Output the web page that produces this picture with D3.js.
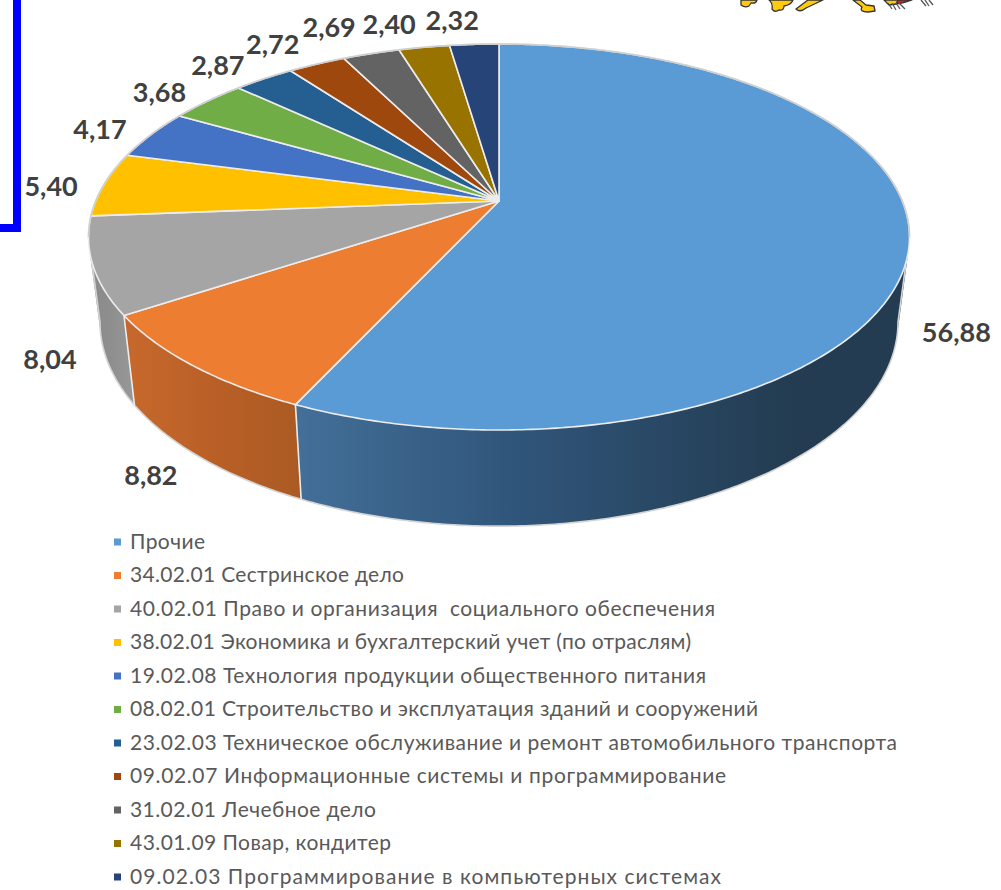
<!DOCTYPE html>
<html>
<head>
<meta charset="utf-8">
<script src="https://cdn.jsdelivr.net/npm/d3@7"></script>
<style>
  html, body { margin: 0; padding: 0; background: #fff; }
  svg { display: block; }
  text { font-family: Lato, "Open Sans", sans-serif; white-space: pre; }
</style>
</head>
<body>
<svg id="drawing_region"></svg>
<script>
const categories = [
    'Прочие',
    '34.02.01 Сестринское дело',
    '40.02.01 Право и организация  социального обеспечения',
    '38.02.01 Экономика и бухгалтерский учет (по отраслям)',
    '19.02.08 Технология продукции общественного питания',
    '08.02.01 Строительство и эксплуатация зданий и сооружений',
    '23.02.03 Техническое обслуживание и ремонт автомобильного транспорта',
    '09.02.07 Информационные системы и программирование',
    '31.02.01 Лечебное дело',
    '43.01.09 Повар, кондитер',
    '09.02.03 Программирование в компьютерных системах'
];
const values = [56.88, 8.82, 8.04, 5.40, 4.17, 3.68, 2.87, 2.72, 2.69, 2.40, 2.32];
const labels = ['56,88', '8,82', '8,04', '5,40', '4,17', '3,68', '2,87', '2,72', '2,69', '2,40', '2,32'];
const colors = ['#5b9bd5', '#ed7d31', '#a5a5a5', '#ffc000', '#4472c4', '#70ad47', '#255e91', '#9e480e', '#636363', '#997300', '#264478'];

const width = 1001, height = 890;
const cx = 499;
const tilt = 0.1865;   // perspective of the pie disc
const top_face = {y: 201, a: 403.3, b: 186.3};
const bottom_face = {y: 284, a: 392, b: 197};

// label shift from the rim point of the slice
const label_nudge = [[47, 90], [-42, 110], [-43, 94], [-53, 2], [-51, -5], [-48, -9], [-46, -14], [-44, -20], [-42, -26], [-35, -23], [-22, -24]];
// legend text widths, the original font is narrower than Lato in some rows
const legend_widths = [75, 274, 585, 561, 576, 628, 767, 596, 246, 261, 591];

const svg = d3.select('#drawing_region').attr('width', width).attr('height', height);
const defs = svg.append('defs');

const pie = d3.pie().value(d => d).sort(null);
const slices = pie(values);

function project(face, angle) {
    const x = d3.scaleLinear().domain([-1, 1]).range([cx - face.a, cx + face.a]);
    const y = d3.scaleLinear().domain([-1, 1]).range([face.y + face.b, face.y - face.b]);
    const u = Math.sin(angle), v = Math.cos(angle);
    const w = 1 + tilt * v;
    return [x(u / w), y(v / w)];
}

function arc_points(face, a0, a1) {
    const n = Math.max(2, Math.ceil(Math.abs(a1 - a0) / 0.01));
    return d3.range(n + 1).map(i => project(face, a0 + (a1 - a0) * i / n));
}

// wall of a slice as many small quads, all turned the same way
function wall_path(a0, a1) {
    const t = arc_points(top_face, a0, a1);
    const b = arc_points(bottom_face, a0, a1);
    let d = '';
    for (let i = 0; i < t.length - 1; i++) {
        let q = [t[i], t[i + 1], b[i + 1], b[i]];
        if (d3.polygonArea(q) < 0) q.reverse();
        d += line(q) + 'Z';
    }
    return d;
}

const line = d3.line();
const edge_angle = Math.acos(-tilt);   // where the wall outline leaves the disc

// side wall shading
const wall_shades = [
    {x1: 296, x2: 790, stops: ['#436f98', '#30557a', '#233c51'], offs: [0, 0.45, 1]},
    {x1: 134, x2: 302, stops: ['#c6682c', '#b85f26', '#ab5a23'], offs: [0, 0.5, 1]},
    {x1: 92, x2: 134, stops: ['#8a8a8a', '#8f8f8f', '#989898'], offs: [0, 0.5, 1]}
];
wall_shades.forEach((s, i) => {
    const g = defs.append('linearGradient').attr('id', 'wall' + i)
        .attr('gradientUnits', 'userSpaceOnUse')
        .attr('x1', s.x1).attr('x2', s.x2).attr('y1', 0).attr('y2', 0);
    s.stops.forEach((c, j) => g.append('stop').attr('offset', s.offs[j]).attr('stop-color', c));
});

// walls, only the three front slices show
const walls = svg.append('g');
const wall_from = [Math.PI / 2, slices[1].startAngle, slices[2].startAngle];
[0, 1, 2].forEach(i => {
    walls.append('path')
        .attr('d', wall_path(wall_from[i], slices[i].endAngle))
        .attr('fill', `url(#wall${i})`);
});

// outline of the walls
const outline = svg.append('g').attr('fill', 'none').attr('stroke', '#d4d4d4').attr('stroke-width', 1.6);
const left_edge = 2 * Math.PI - edge_angle;
outline.append('path').attr('d', line(arc_points(bottom_face, edge_angle, left_edge)));
[edge_angle, left_edge].forEach(a => {
    outline.append('path').attr('d', line([project(top_face, a), project(bottom_face, a)]));
});
[slices[1].startAngle, slices[2].startAngle].forEach(a => {
    outline.append('path').attr('d', line([project(top_face, a), project(bottom_face, a)])).attr('stroke', '#ececec');
});

// top of the pie
const faces = svg.append('g');
faces.selectAll('path')
    .data(slices)
    .enter()
    .append('path')
    .attr('d', d => line([[cx, top_face.y]].concat(arc_points(top_face, d.startAngle, d.endAngle))) + 'Z')
    .attr('fill', (d, i) => colors[i])
    .attr('stroke', '#ececec')
    .attr('stroke-width', 1.6)
    .attr('stroke-linejoin', 'round');

// back rim of the disc is greyer
svg.append('path')
    .attr('d', line(arc_points(top_face, left_edge - 2 * Math.PI, edge_angle)))
    .attr('fill', 'none')
    .attr('stroke', '#cfcfcf')
    .attr('stroke-width', 1.6);

// value labels
svg.append('g').selectAll('text')
    .data(slices)
    .enter()
    .append('text')
    .attr('transform', (d, i) => {
        const p = project(top_face, (d.startAngle + d.endAngle) / 2);
        return `translate(${p[0] + label_nudge[i][0]}, ${p[1] + label_nudge[i][1]})`;
    })
    .attr('text-anchor', 'middle')
    .attr('dy', '0.36em')
    .attr('font-size', 27)
    .attr('font-weight', 700)
    .attr('fill', '#404040')
    .text((d, i) => labels[i]);

// legend
const legend_y = d3.scalePoint().domain(d3.range(categories.length)).range([541, 876]);
const legend = svg.append('g').selectAll('g')
    .data(categories)
    .enter()
    .append('g')
    .attr('transform', (d, i) => `translate(0, ${legend_y(i)})`);
legend.append('rect')
    .attr('x', 114).attr('y', -2.5)
    .attr('width', 7).attr('height', 7)
    .attr('fill', (d, i) => colors[i]);
legend.append('text')
    .attr('x', 130)
    .attr('dy', '0.36em')
    .attr('font-size', 21)
    .attr('fill', '#595959')
    .attr('textLength', (d, i) => legend_widths[i])
    .attr('lengthAdjust', 'spacing')
    .text(d => d);

// blue frame on the left
svg.append('path')
    .attr('d', 'M0,228H17V0')
    .attr('fill', 'none')
    .attr('stroke', '#0000ff')
    .attr('stroke-width', 8);

// cut off emblem in the corner
const emblem = svg.append('g').attr('stroke', '#333').attr('stroke-width', 1.3).attr('stroke-linejoin', 'round');
const gold = [
    'M741,0L741,5Q745,8 749,6L751,3Q756,4 757,0Z',
    'M769,0Q773,3 772,9Q775,13 779,10Q784,11 784,6Q791,5 793,0Z',
    'M796,9L808,0H823L806,8Q800,13 796,9Z',
    'M853,0L862,7Q859,12 868,12L875,11L874,6L866,5L860,0Z',
    'M884,0L889,5L896,4L900,0Z'
];
gold.forEach(d => emblem.append('path').attr('d', d).attr('fill', '#ffc90e'));
emblem.append('path').attr('d', 'M896,4Q905,3 912,0H898Z').attr('fill', '#e31e24');
emblem.append('path').attr('d', 'M888,3L892,9M892,3L896,10M896,3L900,9M899,3L905,9M921,0L926,6M925,0L929,6M929,0L933,5')
    .attr('fill', 'none').attr('stroke', '#555');
</script>
</body>
</html>
